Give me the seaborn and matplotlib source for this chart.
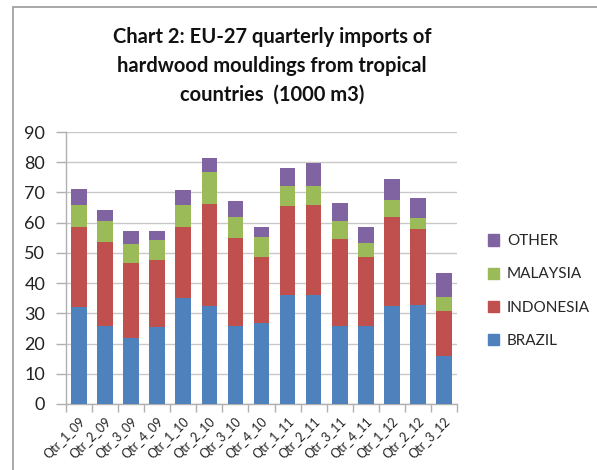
import matplotlib
matplotlib.use("Agg")
import matplotlib.pyplot as plt
import matplotlib.patches as mpatches
import numpy as np
import pandas as pd
import seaborn as sns

quarters = ["Qtr_1_09", "Qtr_2_09", "Qtr_3_09", "Qtr_4_09", "Qtr_1_10", "Qtr_2_10",
            "Qtr_3_10", "Qtr_4_10", "Qtr_1_11", "Qtr_2_11", "Qtr_3_11", "Qtr_4_11",
            "Qtr_1_12", "Qtr_2_12", "Qtr_3_12"]
brazil = [32.0, 25.9, 21.7, 25.4, 35.0, 32.3, 25.9, 26.7, 36.2, 36.2, 25.8, 25.9, 32.5, 32.8, 15.9]
indonesia = [26.7, 27.6, 25.1, 22.3, 23.7, 33.9, 29.1, 21.8, 29.4, 29.6, 28.7, 22.6, 29.5, 25.0, 15.0]
malaysia = [7.1, 7.1, 6.2, 6.7, 7.1, 10.5, 7.0, 6.7, 6.5, 6.3, 6.2, 4.7, 5.5, 3.7, 4.4]
other = [5.4, 3.6, 4.4, 3.0, 5.1, 4.6, 5.3, 3.5, 5.9, 7.7, 5.9, 5.5, 7.1, 6.5, 8.1]
series_names = ["BRAZIL", "INDONESIA", "MALAYSIA", "OTHER"]
colors = {"BRAZIL": "#4F81BD", "INDONESIA": "#C0504D", "MALAYSIA": "#9BBB59", "OTHER": "#8064A2"}
title = "Chart 2: EU-27 quarterly imports of\nhardwood mouldings from tropical\ncountries  (1000 m3)"

sns.set_theme(style="white")
plt.rcParams["font.family"] = ["Lato", "DejaVu Sans"]

df = pd.DataFrame({"quarter": quarters, "BRAZIL": brazil, "INDONESIA": indonesia,
                   "MALAYSIA": malaysia, "OTHER": other})
cum = df[series_names].cumsum(axis=1)

fig = plt.figure(figsize=(5.97, 4.70), dpi=100)
ax = fig.add_axes([66/597, 1-404/470, (457-66)/597, (404-132)/470])

# draw cumulative totals from top to bottom so each visible segment is a stack
for name in reversed(series_names):
    sns.barplot(x=df["quarter"], y=cum[name], color=colors[name], width=0.6,
                saturation=1, ax=ax, zorder=3, edgecolor="none")

ax.set_ylim(0, 90)
ax.set_xlim(-0.5, len(quarters) - 0.5)
ax.set_yticks(range(0, 91, 10))
ax.yaxis.grid(True, color="#c8c8c8", linewidth=1, zorder=0)
ax.set_axisbelow(True)
ax.set_xlabel("")
ax.set_ylabel("")
for s in ["top", "right"]:
    ax.spines[s].set_visible(False)
for s in ["left", "bottom"]:
    ax.spines[s].set_color("#b0b0b0")
    ax.spines[s].set_linewidth(1)

ax.tick_params(axis="y", which="major", length=7, color="#b0b0b0", width=1,
               labelsize=13, pad=8, left=True, labelcolor="#222222")
ax.set_xticks(np.arange(len(quarters)))
ax.set_xticklabels(quarters, rotation=45, ha="right", rotation_mode="anchor",
                   fontsize=9, color="#222222")
ax.tick_params(axis="x", which="major", length=0, pad=8)
ax.set_xticks(np.arange(len(quarters) + 1) - 0.5, minor=True)
ax.tick_params(axis="x", which="minor", length=6, color="#b0b0b0", width=1, bottom=True)

fig.text(272/597, 1-66/470, title, ha="center", va="center", fontsize=14.5,
         fontweight="bold", linespacing=1.55, color="#111111")

handles = [mpatches.Patch(color=colors[n], label=n) for n in reversed(series_names)]
leg = fig.legend(handles=handles, loc="center left", bbox_to_anchor=(474/597, 1-291/470),
                 frameon=False, fontsize=11, handlelength=0.75, handleheight=0.75,
                 handletextpad=0.5, labelspacing=1.25)

border = mpatches.Rectangle((13/597, -0.05), 1.0, 1 - 7/470 + 0.05, transform=fig.transFigure,
                            fill=False, edgecolor="#9a9a9a", linewidth=1.2)
fig.patches.append(border)

fig.savefig("out.png", dpi=100, facecolor="white")
